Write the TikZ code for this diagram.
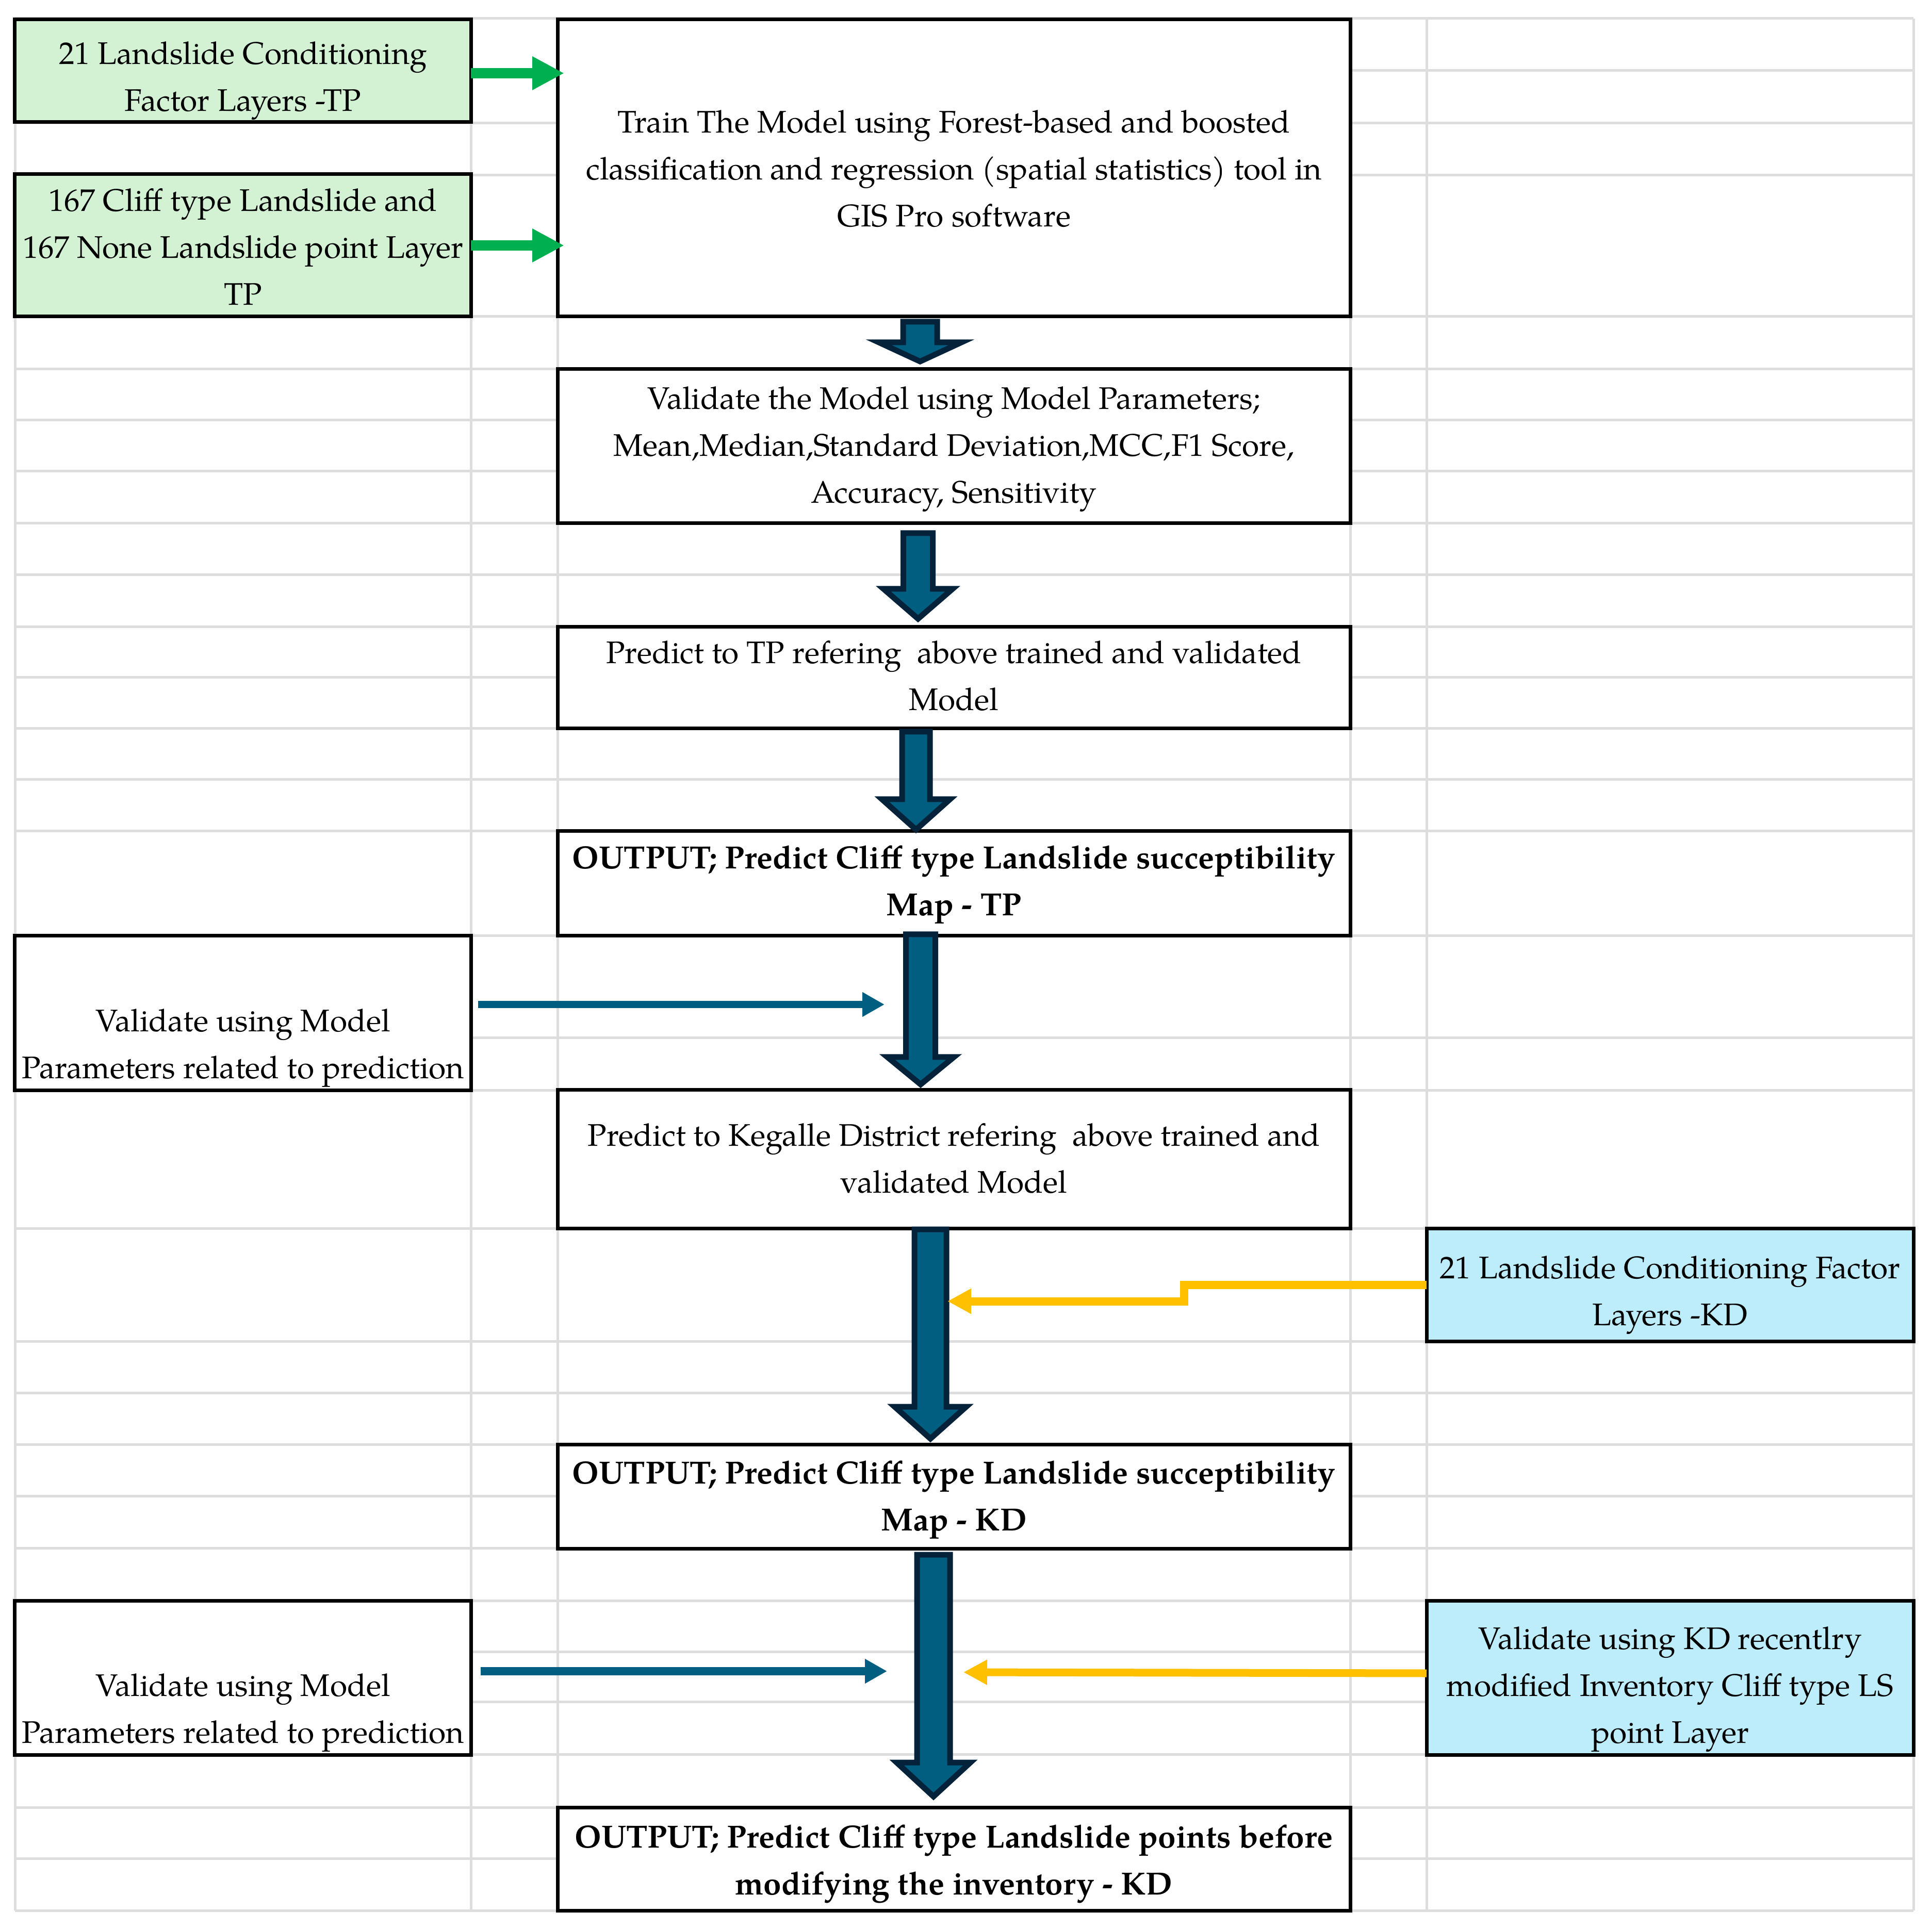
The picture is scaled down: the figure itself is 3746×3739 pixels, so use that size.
\documentclass[tikz,border=0pt]{standalone}
\usepackage{fontspec}
\setmainfont{TeX Gyre Pagella}
\usetikzlibrary{arrows.meta,calc}
\definecolor{gridc}{HTML}{DDDDDD}
\definecolor{boxgreen}{HTML}{D3F1D3}
\definecolor{boxcyan}{HTML}{BDEDFA}
\definecolor{arrgreen}{HTML}{00B050}
\definecolor{arrblue}{HTML}{005F80}
\definecolor{arrnavy}{HTML}{04223A}
\definecolor{arryellow}{HTML}{FFC000}
\newcommand\blockarr[5]{\path[blk] let \p1=(#1),\p2=(#2) in (\x1-#3,\y1) -- (\x1+#3,\y1) -- (\x1+#3,\y2+#5) -- (\x1+#4,\y2+#5) -- (\x2,\y2) -- (\x1-#4,\y2+#5) -- (\x1-#3,\y2+#5) -- cycle;}
\begin{document}
\begin{tikzpicture}[x=0.2pt,y=-0.2pt,
  gridline/.style={gridc,line width=1pt},
  box/.style={draw=black,line width=1.4pt,fill=white,inner sep=0pt,outer sep=0pt},
  lbl/.style={inner sep=0pt,align=center,font=\fontsize{12.1pt}{18.2pt}\selectfont},
  lblb/.style={inner sep=0pt,align=center,font=\fontsize{12.4pt}{18.2pt}\selectfont\bfseries},
  blk/.style={fill=arrblue,draw=arrnavy,line width=2.2pt,miter limit=10},
  grarr/.style={arrgreen,line width=4pt,-{Triangle[length=12.4pt,width=12.2pt]}},
  bluarr/.style={arrblue,line width=3pt,-{Triangle[length=8.6pt,width=9pt]}},
  yelarr/.style={arryellow,line width=3.2pt,line join=miter,-{Triangle[length=9.2pt,width=9.2pt]}}
]
\path[use as bounding box,fill=white] (0,0) rectangle (3746,3739);
% spreadsheet grid
\foreach \y in {36,137,239,340,614,716,815,914,1015,1115,1216,1314,1413,1512,1612,1815,2013,2114,2382,2601,2701,2801,2901,3002,3104,3203,3300,3402,3505,3604,3705}
  \draw[gridline] (29,\y) -- (3710,\y);
\foreach \x in {29,913,1081,2618,2766,3710}
  \draw[gridline] (\x,36) -- (\x,3705);
% boxes
\node[box,fill=boxgreen,minimum width=176.8pt,minimum height=39.8pt] (green1) at (471,137.5) {};
\node[box,fill=boxgreen,minimum width=176.8pt,minimum height=55.2pt] (green2) at (471,476) {};
\node[box,minimum width=307.4pt,minimum height=115.2pt] (train) at (1849.5,326) {};
\node[box,minimum width=307.4pt,minimum height=59.8pt] (valmodel) at (1849.5,865.5) {};
\node[box,minimum width=307.4pt,minimum height=39.4pt] (predtp) at (1849.5,1314.5) {};
\node[box,minimum width=307.4pt,minimum height=40.6pt] (outtp) at (1849.5,1713.5) {};
\node[box,minimum width=176.8pt,minimum height=59.8pt] (val1) at (471,1964.5) {};
\node[box,minimum width=307.4pt,minimum height=53.6pt] (predkd) at (1849.5,2248) {};
\node[box,fill=boxcyan,minimum width=188.8pt,minimum height=43.8pt] (kd1) at (3238,2491.5) {};
\node[box,minimum width=307.4pt,minimum height=40.4pt] (outkd) at (1849.5,2902) {};
\node[box,minimum width=176.8pt,minimum height=59.8pt] (val2) at (471,3253.5) {};
\node[box,fill=boxcyan,minimum width=188.8pt,minimum height=59.8pt] (kd2) at (3238,3253.5) {};
\node[box,minimum width=307.4pt,minimum height=40pt] (outf) at (1849.5,3605) {};
% texts
\node[lbl] (tgreen1) at (471,157) {21 Landslide Conditioning\\Factor Layers -TP};
\node[lbl] (tgreen2) at (471,479) {167 Cliff type Landslide and\\167 None Landslide point Layer\\TP};
\node[lbl] (ttrain) at (1849.5,327) {Train The Model using Forest-based and boosted\\classification and regression (spatial statistics) tool in\\GIS Pro software};
\node[lbl] (tval) at (1849.5,871) {Validate the Model using Model Parameters;\\Mean,Median,Standard Deviation,MCC,F1 Score,\\Accuracy, Sensitivity};
\node[lbl] (tpredtp) at (1849.5,1311) {Predict to TP refering~~above trained and validated\\Model};
\node[lblb] (touttp) at (1849.5,1716) {OUTPUT; Predict Cliff type Landslide succeptibility\\Map - TP};
\node[lbl] (tval1) at (471,2033) {Validate using Model\\Parameters related to prediction};
\node[lbl] (tpredkd) at (1849.5,2247) {Predict to Kegalle District refering~~above trained and\\validated Model};
\node[lbl] (tkd1) at (3238,2512) {21 Landslide Conditioning Factor\\Layers -KD};
\node[lblb] (toutkd) at (1849.5,2909) {OUTPUT; Predict Cliff type Landslide succeptibility\\Map - KD};
\node[lbl] (tval2) at (471,3322) {Validate using Model\\Parameters related to prediction};
\node[lbl] (tkd2) at (3238,3276) {Validate using KD recentlry\\modified Inventory Cliff type LS\\point Layer};
\node[lblb] (toutf) at (1849.5,3615) {OUTPUT; Predict Cliff type Landslide points before\\modifying the inventory - KD};
% block arrow end points
\coordinate (A1) at (1784,624);  \coordinate (A2) at (1784,701);
\coordinate (B1) at (1780,1034); \coordinate (B2) at (1780,1200);
\coordinate (C1) at (1776,1419); \coordinate (C2) at (1776,1609);
\coordinate (D1) at (1785,1812); \coordinate (D2) at (1785,2103);
\coordinate (E1) at (1804,2384); \coordinate (E2) at (1804,2790);
\coordinate (F1) at (1810,3015); \coordinate (F2) at (1810,3484);
\blockarr{A1}{A2}{6.6pt}{16pt}{7.4pt}
\blockarr{B1}{B2}{5.7pt}{13.4pt}{11.6pt}
\blockarr{C1}{C2}{5.4pt}{13.2pt}{11.8pt}
\blockarr{D1}{D2}{5.7pt}{12.9pt}{10.6pt}
\blockarr{E1}{E2}{6.2pt}{13.9pt}{12.4pt}
\blockarr{F1}{F2}{6.4pt}{14.3pt}{13.2pt}
% green arrows
\draw[grarr] ([yshift=-0.9pt]green1.east) -- ([xshift=2.6pt,yshift=-0.9pt]green1.east -| train.west);
\draw[grarr] (green2.east) -- ([xshift=2.6pt]green2.east -| train.west);
% blue side arrows
\coordinate (vb1s) at (927,1948); \coordinate (vb1e) at (1715,1948);
\coordinate (vb2s) at (932,3241); \coordinate (vb2e) at (1720,3241);
\draw[bluarr,line width=2.8pt] (vb1s) -- (vb1e);
\draw[bluarr,line width=3.2pt] (vb2s) -- (vb2e);
% yellow arrows
\draw[yelarr] (kd1.west) -- ++(-470,0) -- ++(0,32) -- ++(-459,0);
\draw[yelarr,line width=3pt] ([yshift=1.7pt]kd2.west) -- (1868,3243);
\end{tikzpicture}
\end{document}
